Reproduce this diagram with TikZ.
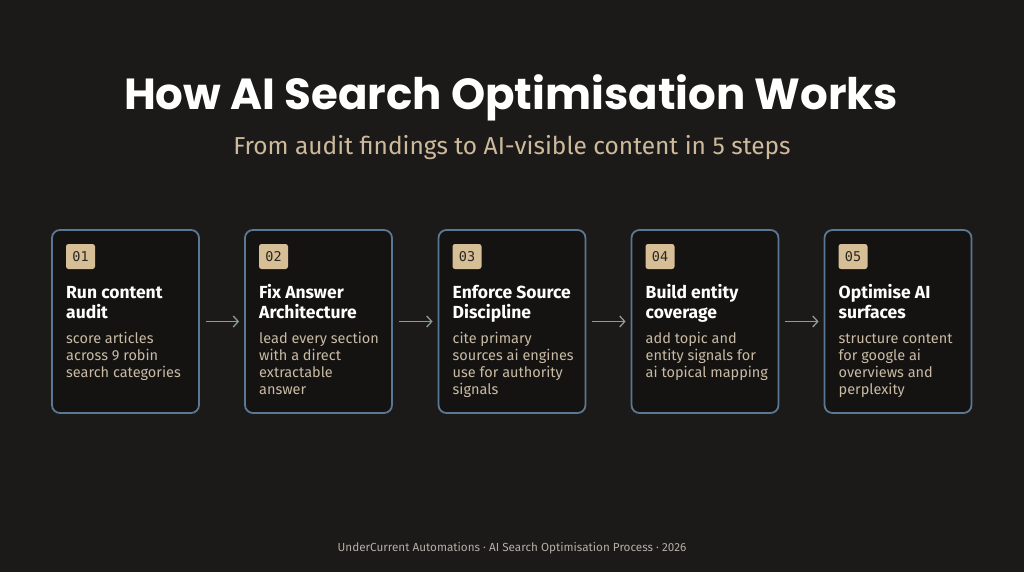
\documentclass[tikz,border=0pt]{standalone}
\usepackage{fontspec}
\setmainfont{Fira Sans}
\newfontfamily\titlefont{Poppins}
\newfontfamily\monofont{DejaVu Sans Mono}
\usetikzlibrary{arrows.meta}
\definecolor{bgc}{HTML}{1B1A18}
\definecolor{boxfill}{HTML}{141311}
\definecolor{boxline}{HTML}{5A7793}
\definecolor{badge}{HTML}{D6BE96}
\definecolor{badgetext}{HTML}{2A2620}
\definecolor{desc}{HTML}{C9BAA4}
\definecolor{subc}{HTML}{CDB99B}
\definecolor{footc}{HTML}{B3AEA6}
\definecolor{arrc}{HTML}{8C9A9A}
\tikzset{
  card/.style={draw=boxline, fill=boxfill, line width=1.8pt, rounded corners=8pt,
    minimum width=147pt, minimum height=183pt, inner sep=0pt},
  badgebox/.style={fill=badge, rounded corners=2.5pt, minimum width=29pt, minimum height=25pt,
    inner sep=0pt, font=\monofont\fontsize{13.5}{14}\selectfont, text=badgetext},
  cardtitle/.style={anchor=north west, inner sep=0pt, align=left,
    font=\bfseries\fontsize{17.5}{20}\selectfont, text=white},
  carddesc/.style={anchor=north west, inner sep=0pt, align=left,
    font=\fontsize{14.5}{17}\selectfont, text=desc},
  flowarr/.style={draw=arrc, line width=1.3pt, -{Straight Barb[length=5pt,width=11pt]},
    shorten <=6pt, shorten >=5pt}
}
\newcommand\stepcard[5]{%
  \node[card] (b#1) at (#2+73.5, 321.5) {};
  \node[badgebox] (n#1) at (#2+28.5, 256.5) {#3};
  \node[cardtitle] (t#1) at (#2+14, 284) {\rule{0pt}{14pt}#4};
  \node[carddesc] (d#1) at (#2+14, 331) {\rule{0pt}{12pt}#5};
}
\begin{document}
\begin{tikzpicture}[x=1pt,y=-1pt]
\fill[bgc] (0,0) rectangle (1024,572);
\useasboundingbox (0,0) rectangle (1024,572);
\node[font=\titlefont\bfseries\fontsize{43.5}{50}\selectfont, text=white] (title) at (511,98) {How AI Search Optimisation Works};
\node[font=\fontsize{24.5}{28}\selectfont, text=subc] (sub) at (512,148) {From audit findings to AI-visible content in 5 steps};
\stepcard{1}{52}{01}{Run content\\audit}{score articles\\across 9 robin\\search categories}
\stepcard{2}{245}{02}{Fix Answer\\Architecture}{lead every section\\with a direct\\extractable\\answer}
\stepcard{3}{438.5}{03}{Enforce Source\\Discipline}{cite primary\\sources ai engines\\use for authority\\signals}
\stepcard{4}{631.5}{04}{Build entity\\coverage}{add topic and\\entity signals for\\ai topical mapping}
\stepcard{5}{824.5}{05}{Optimise AI\\surfaces}{structure content\\for google ai\\overviews and\\perplexity}
\draw[flowarr] (b1.east) -- (b2.west);
\draw[flowarr] (b2.east) -- (b3.west);
\draw[flowarr] (b3.east) -- (b4.west);
\draw[flowarr] (b4.east) -- (b5.west);
\node[font=\fontsize{11.7}{13}\selectfont, text=footc] (foot) at (512,548) {UnderCurrent Automations · AI Search Optimisation Process · 2026};
\end{tikzpicture}
\end{document}
